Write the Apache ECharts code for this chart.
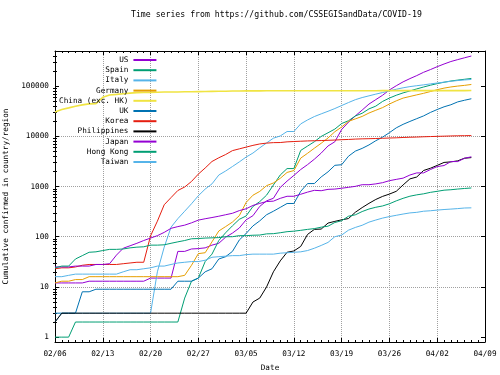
<!DOCTYPE html>
<html><head><meta charset="utf-8">
<script src="https://cdn.jsdelivr.net/npm/echarts@6/dist/echarts.min.js"></script>
<style>html,body{margin:0;padding:0;background:#fff}#c{width:500px;height:375px}</style>
</head><body><div id="c"></div>
<script>
// ---------- data ----------
const titleText = 'Time series from https://github.com/CSSEGISandData/COVID-19';
const xTickLabels = ['02/06','02/13','02/20','02/27','03/05','03/12','03/19','03/26','04/02','04/09'];
const yMajorTicks = [1, 10, 100, 1000, 10000, 100000];
const yMinorTicks = [2,3,4,5,6,7,8,9, 20,30,40,50,60,70,80,90, 200,300,400,500,600,700,800,900,
  2000,3000,4000,5000,6000,7000,8000,9000, 20000,30000,40000,50000,60000,70000,80000,90000,
  200000,300000,400000];
const countries = ['US','Spain','Italy','Germany','China (exc. HK)','UK','Korea','Philippines','Japan','Hong Kong','Taiwan'];
const colors = ['#9400d3','#009e73','#56b4e9','#e69f00','#f0e442','#0072b2','#e51e10','#000000','#9400d3','#009e73','#56b4e9'];

// day 0 = 02/06, one value per day up to 04/07
const us = [12,12,12,12,12,13,13,13,13,13,13,13,13,13,15,15,15,15,51,51,57,58,60,68,74,98,118,149,217,262,402,518,583,959,1281,1663,2179,2727,3499,4632,6421,7783,13677,19100,25489,33276,43847,53740,65778,83836,101657,121465,140909,161831,188172,213242,243622,275367,308650,336802,366317,397121];
const spain = [1,1,1,2,2,2,2,2,2,2,2,2,2,2,2,2,2,2,2,6,13,15,32,45,84,120,165,222,259,400,500,673,1073,1695,2277,2277,5232,6391,7798,9942,11748,13910,17963,20410,25374,28768,35136,39885,49515,57786,65719,73235,80110,87956,95923,104118,112065,119199,126168,131646,136675,141942];
const italy = [2,3,3,3,3,3,3,3,3,3,3,3,3,3,3,20,62,155,229,322,453,655,888,1128,1694,2036,2502,3089,3858,4636,5883,7375,9172,10149,12462,12462,17660,21157,24747,27980,31506,35713,41035,47021,53578,59138,63927,69176,74386,80589,86498,92472,97689,101739,105792,110574,115242,119827,124632,128948,132547,135586];
const germany = [12,13,13,14,14,16,16,16,16,16,16,16,16,16,16,16,16,16,16,17,27,46,48,79,130,159,196,262,482,670,799,1040,1176,1457,1908,2078,3675,4585,5795,7272,9257,12327,15320,19848,22213,24873,29056,32986,37323,43938,50871,57695,62095,66885,71808,77872,84794,91159,96092,100123,103374,107663];
const china = [30600,34100,36800,39800,42300,44300,44700,59800,66300,68300,70400,72300,74100,74500,74950,75500,76100,76200,76300,76900,77100,77600,78000,78500,78800,79200,79800,80000,80150,80250,80400,80550,80650,80700,80730,80760,80790,80790,80800,80820,80840,80840,80850,80850,80880,80930,80950,81000,81060,81100,81110,81130,81160,81170,81200,81220,81240,81280,81320,81350,81410,81450];
const uk = [3,3,3,3,8,8,9,9,9,9,9,9,9,9,9,9,9,9,13,13,13,15,20,23,36,40,51,86,116,164,207,274,322,384,459,459,802,1144,1145,1551,1960,2642,2716,4014,5067,5745,6726,8164,9640,11812,14745,17312,19780,22453,25481,29865,34173,38689,42477,48436,52279,55949];
const korea = [23,24,24,25,27,28,28,28,28,28,29,30,31,31,104,204,433,602,833,977,1261,1766,2337,3150,3736,4335,5186,5621,6088,6593,7041,7314,7478,7513,7755,7869,7979,8086,8162,8236,8320,8413,8565,8652,8799,8897,8961,9037,9137,9241,9332,9478,9583,9661,9786,9887,9976,10062,10156,10237,10284,10331];
const philippines = [2,3,3,3,3,3,3,3,3,3,3,3,3,3,3,3,3,3,3,3,3,3,3,3,3,3,3,3,3,5,6,10,20,33,49,52,64,111,140,142,187,202,217,230,307,380,462,552,636,707,803,1075,1418,1546,2084,2311,2633,3018,3094,3246,3660,3764];
const japan = [25,25,25,26,26,26,28,28,29,43,59,66,74,84,94,105,122,147,159,170,189,214,228,241,256,274,293,331,360,420,461,502,511,581,639,639,701,773,839,825,878,889,924,963,1007,1086,1086,1128,1193,1307,1387,1468,1693,1866,1866,2178,2495,2617,3139,3139,3654,3906];
const hongKong = [24,26,26,36,42,49,50,53,56,56,57,60,62,63,68,68,69,74,79,84,91,92,94,95,96,100,100,105,105,107,108,114,115,120,126,129,134,140,145,155,162,192,208,256,273,317,356,386,410,453,518,582,641,682,715,765,802,845,862,890,914,935];
const taiwan = [16,16,17,18,18,18,18,18,18,18,20,22,22,23,24,26,26,28,30,31,32,32,34,39,40,41,42,42,44,45,45,45,45,47,48,49,50,53,59,67,77,100,108,135,153,169,195,215,235,252,267,283,298,306,322,329,339,348,355,363,373,376];
const seriesValues = [us, spain, italy, germany, china, uk, korea, philippines, japan, hongKong, taiwan];

// ---------- chart ----------
const FONT = 'DejaVu Sans Mono';
const FS = 7.7;
const black = '#000';
const gridLine = {type: 'dotted', color: '#a0a0a0', width: 1};

const xBase = {
  type: 'value', min: 0, max: 63, interval: 7,
  axisLine: {show: true, onZero: false, lineStyle: {color: black, width: 1}},
  axisTick: {show: true, inside: true, length: 4, lineStyle: {color: black}},
  minorTick: {show: true, splitNumber: 7, length: 2, lineStyle: {color: black}},
};
const yBase = {
  type: 'log', logBase: 10, min: 0.8, max: 500000,
  axisLine: {show: true, onZero: false, lineStyle: {color: black, width: 1}},
};

const chart = echarts.init(document.getElementById('c'), null, {renderer: 'canvas'});
chart.setOption({
  animation: false,
  backgroundColor: '#fff',
  title: {
    text: titleText, left: 131, top: 11, padding: 0,
    textStyle: {fontFamily: FONT, fontSize: 8.2, fontWeight: 'normal', color: black}
  },
  grid: {left: 55, right: 15, top: 51, bottom: 33, containLabel: false, outerBoundsMode: 'none'},
  legend: {
    orient: 'vertical', left: 59, top: 55, padding: 0, align: 'right',
    icon: 'rect', itemWidth: 23, itemHeight: 2, itemGap: 0.2, selectedMode: false,
    textStyle: {fontFamily: FONT, fontSize: FS, color: black, lineHeight: 10},
    data: countries
  },
  xAxis: [
    Object.assign({}, xBase, {
      position: 'bottom',
      axisLabel: {show: true, margin: 8, fontFamily: FONT, fontSize: FS, color: black,
        formatter: v => xTickLabels[Math.round(v / 7)]},
      splitLine: {show: true, showMinLine: false, showMaxLine: false, lineStyle: gridLine},
      name: 'Date', nameLocation: 'middle', nameGap: 22,
      nameTextStyle: {fontFamily: FONT, fontSize: FS, color: black}
    }),
    Object.assign({}, xBase, {
      position: 'top', axisLabel: {show: false}, splitLine: {show: false}
    })
  ],
  yAxis: [
    Object.assign({}, yBase, {
      position: 'left',
      axisTick: {show: true, inside: true, length: 4, customValues: yMajorTicks, lineStyle: {color: black}},
      axisLabel: {show: true, customValues: yMajorTicks, margin: 6, fontFamily: FONT, fontSize: FS, color: black,
        formatter: v => String(Math.round(v))},
      splitLine: {show: true, showMinLine: false, showMaxLine: false, lineStyle: gridLine},
      name: 'Cumulative confirmed in country/region', nameLocation: 'middle', nameGap: 38, nameRotate: 90,
      nameTextStyle: {fontFamily: FONT, fontSize: FS, color: black}
    }),
    Object.assign({}, yBase, {
      position: 'left', axisLine: {show: false},
      axisTick: {show: true, inside: true, length: 2, customValues: yMinorTicks, lineStyle: {color: black}},
      axisLabel: {show: false}, splitLine: {show: false}
    }),
    Object.assign({}, yBase, {
      position: 'right',
      axisTick: {show: true, inside: true, length: 4, customValues: yMajorTicks, lineStyle: {color: black}},
      axisLabel: {show: false}, splitLine: {show: false}
    }),
    Object.assign({}, yBase, {
      position: 'right', axisLine: {show: false},
      axisTick: {show: true, inside: true, length: 2, customValues: yMinorTicks, lineStyle: {color: black}},
      axisLabel: {show: false}, splitLine: {show: false}
    })
  ],
  series: countries.map((name, k) => ({
    type: 'line', name: name, xAxisIndex: 0, yAxisIndex: 0,
    data: seriesValues[k].map((v, i) => [i, v]),
    showSymbol: false, symbol: 'none', silent: true,
    color: colors[k],
    itemStyle: {color: colors[k]},
    lineStyle: {color: colors[k], width: name === 'China (exc. HK)' ? 1.6 : 1}
  }))
});
</script>
</body></html>
